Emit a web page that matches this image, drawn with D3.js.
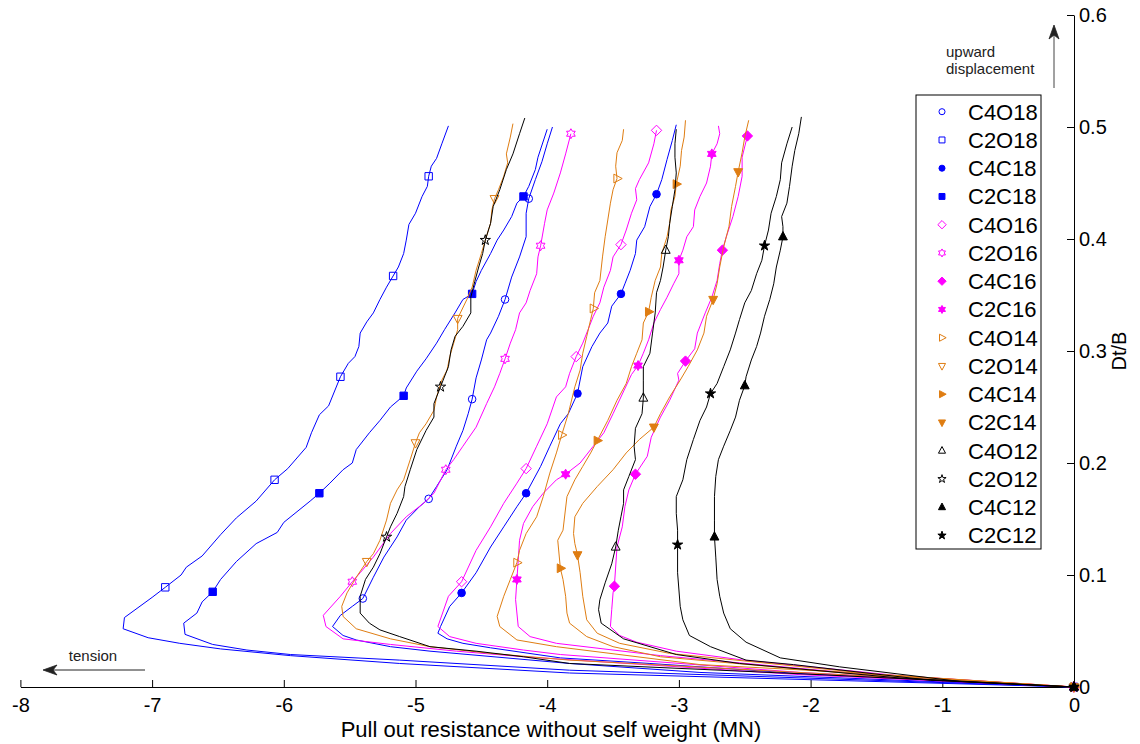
<!DOCTYPE html>
<html>
<head>
<meta charset="utf-8">
<script src="https://cdn.jsdelivr.net/npm/d3@7"></script>
<style>
  body { margin: 0; background: #fff; }
  svg { font-family: "Liberation Sans", Arial, sans-serif; }
</style>
</head>
<body>
<svg id="chart" width="1140" height="744"></svg>
<script>
// pull out resistance (MN) vs Dt/B
var seriesNames = ["C4O18","C2O18","C4C18","C2C18","C4O16","C2O16","C4C16","C2C16",
                   "C4O14","C2O14","C4C14","C2C14","C4O12","C2O12","C4C12","C2C12"];
var xTicks = [-8,-7,-6,-5,-4,-3,-2,-1,0];
var yTicks = [0,0.1,0.2,0.3,0.4,0.5,0.6];

var c4o18 = [[0,0],[-2.84,0.013],[-3.83,0.021],[-4.89,0.032],[-5.19,0.036],[-5.45,0.042],[-5.55,0.046],[-5.63,0.054],[-5.57,0.064],[-5.48,0.072],[-5.40,0.079],[-5.32,0.098],[-5.24,0.116],[-5.14,0.134],[-5.07,0.149],[-4.97,0.161],[-4.90,0.168],[-4.84,0.179],[-4.76,0.194],[-4.69,0.215],[-4.64,0.229],[-4.60,0.244],[-4.57,0.257],[-4.54,0.276],[-4.50,0.292],[-4.46,0.310],[-4.43,0.316],[-4.37,0.331],[-4.32,0.346],[-4.27,0.366],[-4.21,0.384],[-4.16,0.402],[-4.16,0.423],[-4.14,0.436],[-4.09,0.453],[-4.04,0.469],[-4.00,0.485],[-3.96,0.500]];
var c4o18Mk = [[0,0],[-5.40,0.079],[-4.90,0.168],[-4.57,0.257],[-4.32,0.346],[-4.14,0.436]];

var c2o18 = [[0,0],[-3.83,0.0125],[-5.12,0.021],[-5.95,0.028],[-6.48,0.034],[-6.79,0.039],[-7.03,0.044],[-7.22,0.052],[-7.21,0.062],[-7.00,0.080],[-6.90,0.089],[-6.78,0.100],[-6.74,0.107],[-6.62,0.117],[-6.48,0.136],[-6.36,0.151],[-6.21,0.166],[-6.07,0.185],[-5.97,0.195],[-5.83,0.214],[-5.79,0.227],[-5.73,0.243],[-5.66,0.251],[-5.57,0.277],[-5.51,0.289],[-5.46,0.295],[-5.43,0.304],[-5.42,0.316],[-5.37,0.326],[-5.32,0.334],[-5.27,0.346],[-5.22,0.357],[-5.17,0.367],[-5.13,0.375],[-5.09,0.387],[-5.07,0.399],[-5.05,0.413],[-5.00,0.423],[-4.95,0.438],[-4.91,0.447],[-4.90,0.456],[-4.88,0.465],[-4.84,0.472],[-4.80,0.485],[-4.75,0.501]];
var c2o18Mk = [[0,0],[-6.90,0.089],[-6.07,0.185],[-5.57,0.277],[-5.17,0.367],[-4.90,0.456]];

var c4c18 = [[0,0],[-2.08,0.012],[-3.22,0.021],[-3.90,0.026],[-4.43,0.035],[-4.64,0.039],[-4.76,0.043],[-4.83,0.048],[-4.81,0.054],[-4.74,0.072],[-4.65,0.084],[-4.54,0.102],[-4.43,0.125],[-4.33,0.143],[-4.23,0.161],[-4.16,0.173],[-4.05,0.197],[-3.98,0.215],[-3.90,0.235],[-3.84,0.244],[-3.77,0.262],[-3.76,0.268],[-3.73,0.286],[-3.66,0.304],[-3.60,0.316],[-3.54,0.325],[-3.51,0.340],[-3.44,0.351],[-3.41,0.360],[-3.37,0.372],[-3.33,0.387],[-3.32,0.399],[-3.26,0.411],[-3.22,0.429],[-3.17,0.440],[-3.13,0.453],[-3.09,0.471],[-3.05,0.488],[-3.02,0.502]];
var c4c18Mk = [[0,0],[-4.65,0.084],[-4.16,0.173],[-3.77,0.262],[-3.44,0.351],[-3.17,0.440]];

var c2c18 = [[0,0],[-3.83,0.015],[-5.12,0.024],[-5.95,0.029],[-6.28,0.033],[-6.54,0.038],[-6.75,0.047],[-6.76,0.057],[-6.66,0.066],[-6.62,0.076],[-6.54,0.085],[-6.48,0.096],[-6.36,0.112],[-6.21,0.128],[-6.05,0.138],[-6.00,0.147],[-5.80,0.166],[-5.73,0.173],[-5.65,0.182],[-5.55,0.194],[-5.48,0.200],[-5.45,0.212],[-5.35,0.227],[-5.27,0.238],[-5.19,0.250],[-5.09,0.260],[-5.07,0.267],[-4.99,0.282],[-4.92,0.293],[-4.84,0.307],[-4.78,0.319],[-4.70,0.334],[-4.64,0.346],[-4.57,0.351],[-4.54,0.362],[-4.50,0.372],[-4.43,0.387],[-4.38,0.399],[-4.33,0.408],[-4.27,0.420],[-4.23,0.432],[-4.18,0.438],[-4.14,0.447],[-4.09,0.462],[-4.07,0.473],[-4.00,0.498]];
var c2c18Mk = [[0,0],[-6.54,0.085],[-5.73,0.173],[-5.09,0.260],[-4.57,0.351],[-4.18,0.438]];

var c4o16 = [[0,0],[-2.08,0.013],[-3.90,0.029],[-4.18,0.033],[-4.54,0.039],[-4.74,0.045],[-4.83,0.054],[-4.75,0.081],[-4.65,0.094],[-4.54,0.122],[-4.43,0.143],[-4.33,0.164],[-4.23,0.182],[-4.16,0.195],[-4.08,0.215],[-4.00,0.235],[-3.93,0.259],[-3.86,0.268],[-3.83,0.280],[-3.78,0.295],[-3.73,0.307],[-3.69,0.319],[-3.65,0.331],[-3.60,0.343],[-3.57,0.357],[-3.52,0.372],[-3.50,0.384],[-3.44,0.395],[-3.40,0.408],[-3.36,0.423],[-3.32,0.435],[-3.33,0.445],[-3.30,0.453],[-3.23,0.468],[-3.19,0.485],[-3.17,0.497]];
var c4o16Mk = [[0,0],[-4.65,0.094],[-4.16,0.195],[-3.78,0.295],[-3.44,0.395],[-3.17,0.497]];

var c2o16 = [[0,0],[-2.08,0.011],[-4.18,0.027],[-4.69,0.032],[-5.19,0.038],[-5.55,0.043],[-5.68,0.054],[-5.70,0.064],[-5.57,0.081],[-5.48,0.094],[-5.42,0.102],[-5.32,0.116],[-5.19,0.137],[-5.07,0.152],[-4.94,0.164],[-4.86,0.173],[-4.77,0.194],[-4.71,0.203],[-4.64,0.215],[-4.54,0.232],[-4.46,0.253],[-4.40,0.268],[-4.36,0.280],[-4.32,0.293],[-4.28,0.307],[-4.24,0.319],[-4.21,0.334],[-4.16,0.343],[-4.13,0.354],[-4.08,0.369],[-4.07,0.384],[-4.05,0.394],[-4.02,0.414],[-4.00,0.426],[-3.95,0.441],[-3.90,0.459],[-3.86,0.476],[-3.82,0.494]];
var c2o16Mk = [[0,0],[-5.48,0.094],[-4.77,0.194],[-4.32,0.293],[-4.05,0.394],[-3.82,0.494]];

var c4c16 = [[0,0],[-1.32,0.010],[-2.51,0.024],[-3.02,0.032],[-3.32,0.040],[-3.45,0.046],[-3.52,0.054],[-3.51,0.069],[-3.50,0.084],[-3.49,0.090],[-3.47,0.125],[-3.43,0.143],[-3.41,0.161],[-3.38,0.176],[-3.33,0.190],[-3.24,0.206],[-3.21,0.223],[-3.14,0.241],[-3.07,0.256],[-3.00,0.274],[-3.01,0.280],[-2.95,0.291],[-2.88,0.302],[-2.86,0.316],[-2.80,0.334],[-2.75,0.348],[-2.71,0.363],[-2.69,0.378],[-2.67,0.390],[-2.64,0.402],[-2.59,0.420],[-2.55,0.438],[-2.52,0.456],[-2.52,0.473],[-2.48,0.492]];
var c4c16Mk = [[0,0],[-3.49,0.090],[-3.33,0.190],[-2.95,0.291],[-2.67,0.390],[-2.48,0.492]];

var c2c16 = [[0,0],[-1.70,0.0125],[-3.14,0.028],[-3.93,0.039],[-4.13,0.045],[-4.22,0.054],[-4.24,0.078],[-4.23,0.096],[-4.22,0.113],[-4.21,0.131],[-4.18,0.146],[-4.11,0.161],[-4.03,0.173],[-3.93,0.185],[-3.86,0.190],[-3.75,0.200],[-3.65,0.215],[-3.57,0.227],[-3.50,0.244],[-3.38,0.274],[-3.36,0.279],[-3.31,0.287],[-3.27,0.298],[-3.23,0.310],[-3.19,0.325],[-3.14,0.337],[-3.09,0.348],[-3.04,0.360],[-3.00,0.369],[-3.00,0.381],[-2.97,0.390],[-2.94,0.402],[-2.89,0.411],[-2.88,0.426],[-2.84,0.438],[-2.79,0.450],[-2.76,0.465],[-2.75,0.476],[-2.71,0.485],[-2.69,0.494],[-2.70,0.501]];
var c2c16Mk = [[0,0],[-4.23,0.096],[-3.86,0.190],[-3.31,0.287],[-3.00,0.381],[-2.75,0.476]];

var c4o14 = [[0,0],[-1.70,0.013],[-2.84,0.020],[-3.93,0.036],[-4.23,0.042],[-4.36,0.054],[-4.38,0.063],[-4.33,0.081],[-4.28,0.096],[-4.23,0.111],[-4.21,0.122],[-4.16,0.137],[-4.08,0.152],[-4.03,0.170],[-3.98,0.191],[-3.93,0.209],[-3.89,0.225],[-3.84,0.244],[-3.79,0.268],[-3.75,0.283],[-3.73,0.298],[-3.70,0.313],[-3.67,0.328],[-3.65,0.338],[-3.64,0.352],[-3.60,0.363],[-3.58,0.384],[-3.56,0.402],[-3.54,0.417],[-3.52,0.432],[-3.50,0.444],[-3.47,0.454],[-3.48,0.465],[-3.47,0.477],[-3.43,0.488],[-3.42,0.498]];
var c4o14Mk = [[0,0],[-4.23,0.111],[-3.89,0.225],[-3.65,0.338],[-3.47,0.454]];

var c2o14 = [[0,0],[-1.93,0.012],[-3.83,0.024],[-4.43,0.030],[-4.89,0.036],[-5.19,0.043],[-5.45,0.052],[-5.55,0.063],[-5.56,0.072],[-5.52,0.084],[-5.45,0.098],[-5.37,0.112],[-5.32,0.119],[-5.27,0.131],[-5.22,0.149],[-5.19,0.164],[-5.14,0.176],[-5.09,0.185],[-5.04,0.203],[-5.00,0.218],[-4.97,0.227],[-4.92,0.235],[-4.86,0.247],[-4.84,0.259],[-4.80,0.274],[-4.76,0.283],[-4.74,0.295],[-4.71,0.307],[-4.68,0.319],[-4.68,0.329],[-4.61,0.346],[-4.57,0.357],[-4.54,0.372],[-4.50,0.387],[-4.47,0.399],[-4.43,0.414],[-4.42,0.426],[-4.40,0.436],[-4.37,0.444],[-4.33,0.456],[-4.30,0.468],[-4.31,0.476],[-4.28,0.491],[-4.26,0.503]];
var c2o14Mk = [[0,0],[-5.37,0.112],[-5.00,0.218],[-4.68,0.329],[-4.40,0.436]];

var c4c14 = [[0,0],[-1.70,0.012],[-3.14,0.027],[-3.50,0.036],[-3.70,0.045],[-3.83,0.057],[-3.85,0.066],[-3.86,0.081],[-3.88,0.096],[-3.90,0.106],[-3.92,0.131],[-3.88,0.140],[-3.85,0.170],[-3.79,0.185],[-3.73,0.197],[-3.67,0.209],[-3.62,0.220],[-3.54,0.238],[-3.47,0.256],[-3.40,0.271],[-3.36,0.286],[-3.32,0.298],[-3.28,0.310],[-3.27,0.325],[-3.23,0.335],[-3.21,0.348],[-3.18,0.363],[-3.14,0.375],[-3.13,0.387],[-3.09,0.402],[-3.07,0.414],[-3.06,0.426],[-3.03,0.438],[-3.02,0.449],[-2.99,0.465],[-2.98,0.479],[-2.96,0.491],[-2.95,0.506]];
var c4c14Mk = [[0,0],[-3.90,0.106],[-3.62,0.220],[-3.23,0.335],[-3.02,0.449]];

var c2c14 = [[0,0],[-1.47,0.011],[-3.07,0.030],[-3.45,0.039],[-3.62,0.048],[-3.70,0.060],[-3.73,0.081],[-3.75,0.102],[-3.77,0.118],[-3.79,0.128],[-3.80,0.137],[-3.79,0.152],[-3.73,0.164],[-3.62,0.179],[-3.50,0.194],[-3.40,0.209],[-3.30,0.221],[-3.19,0.232],[-3.14,0.244],[-3.07,0.259],[-2.99,0.274],[-2.93,0.286],[-2.86,0.301],[-2.81,0.316],[-2.79,0.331],[-2.74,0.346],[-2.71,0.360],[-2.69,0.375],[-2.66,0.393],[-2.62,0.411],[-2.60,0.429],[-2.57,0.447],[-2.55,0.460],[-2.52,0.477],[-2.50,0.491],[-2.47,0.506]];
var c2c14Mk = [[0,0],[-3.77,0.118],[-3.19,0.232],[-2.74,0.346],[-2.55,0.460]];

var c4o12 = [[0,0],[-1.32,0.008],[-2.54,0.021],[-3.02,0.029],[-3.42,0.043],[-3.59,0.057],[-3.61,0.069],[-3.60,0.078],[-3.56,0.093],[-3.51,0.110],[-3.48,0.125],[-3.46,0.140],[-3.44,0.152],[-3.42,0.164],[-3.42,0.176],[-3.38,0.188],[-3.33,0.203],[-3.34,0.215],[-3.33,0.231],[-3.28,0.244],[-3.27,0.258],[-3.27,0.274],[-3.27,0.286],[-3.22,0.298],[-3.20,0.316],[-3.18,0.334],[-3.17,0.352],[-3.14,0.363],[-3.12,0.375],[-3.10,0.390],[-3.08,0.402],[-3.07,0.414],[-3.05,0.429],[-3.03,0.444],[-3.02,0.459],[-3.03,0.473],[-3.03,0.485],[-3.02,0.498]];
var c4o12Mk = [[0,0],[-3.48,0.125],[-3.27,0.258],[-3.10,0.390]];

var c2o12 = [[0,0],[-1.93,0.011],[-3.83,0.021],[-4.18,0.027],[-4.54,0.032],[-4.89,0.036],[-5.12,0.045],[-5.27,0.051],[-5.35,0.057],[-5.42,0.066],[-5.42,0.081],[-5.38,0.096],[-5.32,0.107],[-5.27,0.119],[-5.22,0.134],[-5.19,0.143],[-5.14,0.155],[-5.09,0.170],[-5.08,0.179],[-5.04,0.194],[-4.99,0.212],[-4.92,0.229],[-4.86,0.241],[-4.86,0.253],[-4.81,0.268],[-4.75,0.286],[-4.73,0.301],[-4.70,0.313],[-4.64,0.322],[-4.58,0.334],[-4.58,0.348],[-4.55,0.362],[-4.52,0.375],[-4.49,0.387],[-4.47,0.399],[-4.43,0.414],[-4.41,0.429],[-4.36,0.444],[-4.31,0.462],[-4.26,0.476],[-4.21,0.494],[-4.17,0.508]];
var c2o12Mk = [[0,0],[-5.22,0.134],[-4.81,0.268],[-4.47,0.399]];

var c4c12 = [[0,0],[-0.87,0.005],[-1.78,0.018],[-2.23,0.026],[-2.49,0.040],[-2.61,0.052],[-2.66,0.066],[-2.69,0.081],[-2.71,0.096],[-2.72,0.116],[-2.73,0.134],[-2.73,0.149],[-2.73,0.170],[-2.72,0.188],[-2.70,0.203],[-2.66,0.215],[-2.61,0.229],[-2.57,0.241],[-2.54,0.256],[-2.50,0.269],[-2.49,0.277],[-2.45,0.292],[-2.41,0.304],[-2.38,0.316],[-2.35,0.331],[-2.31,0.346],[-2.28,0.360],[-2.26,0.375],[-2.23,0.390],[-2.21,0.402],[-2.21,0.411],[-2.22,0.420],[-2.18,0.432],[-2.16,0.447],[-2.14,0.465],[-2.12,0.479],[-2.09,0.494],[-2.07,0.509]];
var c4c12Mk = [[0,0],[-2.73,0.134],[-2.50,0.269],[-2.21,0.402]];

var c2c12 = [[0,0],[-1.09,0.006],[-2.13,0.020],[-2.49,0.024],[-2.76,0.036],[-2.92,0.046],[-2.97,0.060],[-2.99,0.072],[-3.01,0.102],[-3.01,0.127],[-3.01,0.140],[-3.02,0.155],[-3.02,0.170],[-2.97,0.185],[-2.94,0.203],[-2.89,0.221],[-2.84,0.238],[-2.79,0.250],[-2.76,0.262],[-2.71,0.271],[-2.66,0.286],[-2.61,0.301],[-2.57,0.316],[-2.54,0.328],[-2.50,0.343],[-2.45,0.354],[-2.41,0.369],[-2.37,0.381],[-2.35,0.394],[-2.32,0.408],[-2.30,0.423],[-2.26,0.438],[-2.23,0.453],[-2.22,0.468],[-2.18,0.485],[-2.14,0.500]];
var c2c12Mk = [[0,0],[-3.01,0.127],[-2.76,0.262],[-2.35,0.394]];

var curves = [c4o18,c2o18,c4c18,c2c18,c4o16,c2o16,c4c16,c2c16,c4o14,c2o14,c4c14,c2c14,c4o12,c2o12,c4c12,c2c12];
var marks  = [c4o18Mk,c2o18Mk,c4c18Mk,c2c18Mk,c4o16Mk,c2o16Mk,c4c16Mk,c2c16Mk,c4o14Mk,c2o14Mk,c4c14Mk,c2c14Mk,c4o12Mk,c2o12Mk,c4c12Mk,c2c12Mk];

// styling per series (colour by diameter, marker by case)
var groupColor = {"18":"#0000ff","16":"#ff00ff","14":"#df7d12","12":"#000000"};
var shapes = {
  "18": ["circle","square"],
  "16": ["diamond","hexagram"],
  "14": ["triRight","triDown"],
  "12": ["triUp","pentagram"]
};
var markerSize = {circle:3.8,square:3.7,diamond:5.2,hexagram:5,triRight:5.2,triDown:5.2,triUp:5.2,pentagram:5.4};

function styleOf(name) {
  var d = name.slice(3), filled = name[2] === "C";
  var shape = shapes[d][name[1] === "4" ? 0 : 1];
  return {color: groupColor[d], filled: filled, shape: shape};
}

function poly(p) { return "M" + p.map(function(q){ return q[0].toFixed(2) + "," + q[1].toFixed(2); }).join("L") + "Z"; }
function starPts(n, ro, ri) {
  var p = [];
  for (var i = 0; i < 2*n; i++) {
    var a = -Math.PI/2 + i*Math.PI/n, r = i % 2 ? ri : ro;
    p.push([r*Math.cos(a), r*Math.sin(a)]);
  }
  return p;
}
function markerPath(shape, r) {
  switch (shape) {
    case "circle": return d3.symbol(d3.symbolCircle, Math.PI*r*r)();
    case "square": return poly([[-r,-r],[r,-r],[r,r],[-r,r]]);
    case "diamond": return poly([[0,-r],[r,0],[0,r],[-r,0]]);
    case "triUp": return poly([[0,-r],[r*0.85,r*0.6],[-r*0.85,r*0.6]]);
    case "triDown": return poly([[0,r],[r*0.85,-r*0.6],[-r*0.85,-r*0.6]]);
    case "triRight": return poly([[r,0],[-r*0.6,-r*0.85],[-r*0.6,r*0.85]]);
    case "hexagram": return poly(starPts(6, r, r/Math.sqrt(3)));
    case "pentagram": return poly(starPts(5, r, r*0.382));
  }
}

var svg = d3.select("#chart");
var x = d3.scaleLinear().domain([-8,0]).range([20.4,1074]);
var y = d3.scaleLinear().domain([0,0.6]).range([687,15]);

// axes
var xAxis = svg.append("g").attr("transform","translate(0," + y(0) + ")")
  .call(d3.axisBottom(x).tickValues(xTicks).tickSizeInner(-7).tickSizeOuter(0).tickPadding(11)
    .tickFormat(function(d){ return String(d); }));
var yAxis = svg.append("g").attr("transform","translate(" + x(0) + ",0)")
  .call(d3.axisRight(y).tickValues(yTicks).tickSizeInner(-7).tickSizeOuter(0).tickPadding(5)
    .tickFormat(function(d){ return String(d); }));
[xAxis, yAxis].forEach(function(a){
  a.selectAll("text").attr("font-size",20).attr("font-family","Liberation Sans, Arial").attr("fill","#000");
  a.selectAll("line,path").attr("stroke","#000");
});

svg.append("text").attr("x",551).attr("y",737).attr("text-anchor","middle")
  .attr("font-size",22).text("Pull out resistance without self weight (MN)");
svg.append("text").attr("transform","translate(1126,351) rotate(-90)").attr("text-anchor","middle")
  .attr("font-size",20).text("Dt/B");

// curves
var line = d3.line().x(function(d){ return x(d[0]); }).y(function(d){ return y(d[1]); });
seriesNames.forEach(function(name, i) {
  var st = styleOf(name);
  var g = svg.append("g");
  g.append("path").datum(curves[i]).attr("d", line)
    .attr("fill","none").attr("stroke",st.color).attr("stroke-width",1).attr("stroke-linejoin","round");
  g.selectAll("path.mk").data(marks[i]).enter().append("path").attr("class","mk")
    .attr("transform", function(d){ return "translate(" + x(d[0]) + "," + y(d[1]) + ")"; })
    .attr("d", markerPath(st.shape, markerSize[st.shape]))
    .attr("fill", st.filled ? st.color : "none").attr("stroke", st.color).attr("stroke-width",1);
});

// legend
var lg = svg.append("g");
lg.append("rect").attr("x",916).attr("y",95).attr("width",125).attr("height",454)
  .attr("fill","#fff").attr("stroke","#000").attr("stroke-width",1);
seriesNames.forEach(function(name, i) {
  var st = styleOf(name), yy = 111.7 + i*28.25;
  lg.append("path").attr("transform","translate(942," + yy + ")")
    .attr("d", markerPath(st.shape, markerSize[st.shape]*0.8))
    .attr("fill", st.filled ? st.color : "none").attr("stroke", st.color).attr("stroke-width",1);
  lg.append("text").attr("x",968).attr("y",yy).attr("dy","0.36em").attr("font-size",22).text(name);
});

// annotation arrows
function arrowHead(tx, ty, ang) {
  var p = [[0,0],[14,-5],[10,0],[14,5]].map(function(q){
    return [tx + q[0]*Math.cos(ang) - q[1]*Math.sin(ang), ty + q[0]*Math.sin(ang) + q[1]*Math.cos(ang)];
  });
  svg.append("path").attr("d", poly(p)).attr("fill","#222").attr("stroke","#222").attr("stroke-width",0.8);
}
svg.append("line").attr("x1",145).attr("x2",50).attr("y1",670).attr("y2",670).attr("stroke","#222");
arrowHead(43, 670, 0);
svg.append("text").attr("x",93).attr("y",661).attr("text-anchor","middle").attr("font-size",15).attr("fill","#222").text("tension");

svg.append("line").attr("x1",1054).attr("x2",1054).attr("y1",32).attr("y2",88).attr("stroke","#444");
arrowHead(1054, 25, Math.PI/2);
svg.append("text").attr("x",946).attr("y",57).attr("font-size",15).attr("fill","#222").text("upward");
svg.append("text").attr("x",946).attr("y",74).attr("font-size",15).attr("fill","#222").text("displacement");
</script>
</body>
</html>
